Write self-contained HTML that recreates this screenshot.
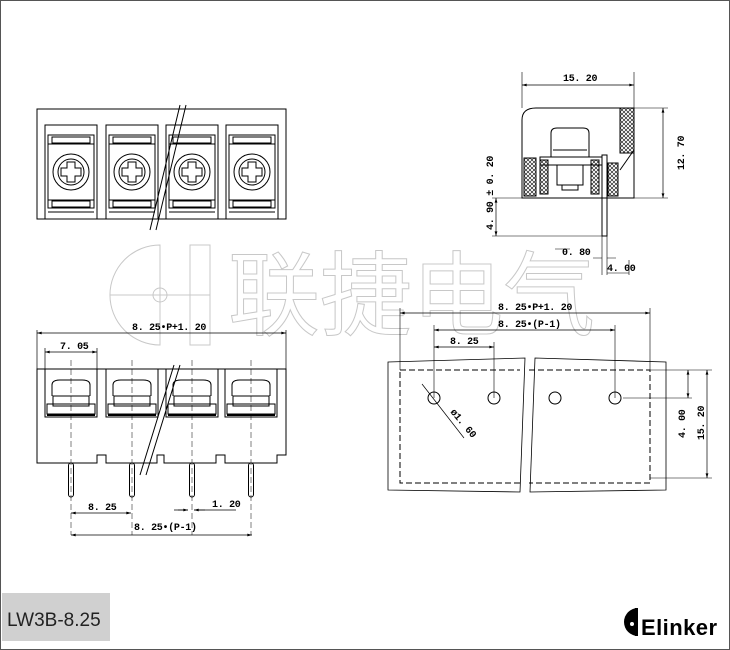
<!DOCTYPE html>
<html><head><meta charset="utf-8"><style>
html,body{margin:0;padding:0;background:#fff;}
svg{display:block;}
text{font-family:"Liberation Mono","DejaVu Sans Mono",monospace;font-weight:bold;font-size:10px;fill:#000;letter-spacing:-0.3px;}
</style></head><body>
<svg width="730" height="650" viewBox="0 0 730 650" xmlns="http://www.w3.org/2000/svg">
<defs>
<marker id="a" viewBox="0 0 10 6" refX="10" refY="3" markerWidth="8" markerHeight="4" orient="auto-start-reverse"><path d="M0,0L10,3L0,6z" fill="#000"/></marker>
<pattern id="h" width="4" height="4" patternUnits="userSpaceOnUse"><path d="M0,0L4,4M4,0L0,4" stroke="#000" stroke-width="0.6"/></pattern>
</defs>
<rect x="0.5" y="0.5" width="729" height="649" fill="none" stroke="#555"/>
<!-- watermark -->
<g fill="none" stroke="#c8c8c8" stroke-width="1">
<path d="M160,245 A50,50 0 1,0 160,345 L160,245 Z M110,295 H210"/>
<circle cx="160" cy="295" r="7"/>
<rect x="190" y="245" width="20" height="100"/>
<text x="228" y="328" style="font-family:'Noto Sans CJK SC',sans-serif;font-size:92px;font-weight:400;fill:none;stroke:#c8c8c8;stroke-width:1">联捷电气</text>
</g>
<g fill="none" stroke="#000" stroke-width="1">
<!-- top view -->
<rect x="37" y="109" width="249" height="110"/>
<g id="cell">
<rect x="45" y="125" width="52" height="94"/>
<rect x="48" y="135" width="46" height="9"/>
<rect x="52" y="137" width="38" height="6"/>
<rect x="48" y="144" width="46" height="56"/>
<circle cx="71" cy="172" r="18"/>
<circle cx="71" cy="172" r="13"/>
<path d="M67,162h8v6h6v8h-6v6h-8v-6h-6v-8h6z"/>
<rect x="48" y="200" width="46" height="8"/>
<rect x="52" y="201" width="38" height="6"/>
<path d="M48,212h46" />
</g>
<use href="#cell" x="61"/><use href="#cell" x="121"/><use href="#cell" x="181"/>
<path d="M180,105 L150,230 M186,105 L156,230" stroke-width="1"/>
<!-- front view -->
<path d="M37,369H286V455H277V463H225V455H216V463H164V455H157V463H106V455H97V463H37Z"/>
<g id="win">
<rect x="45" y="369" width="52" height="48"/>
<path d="M52,396V385Q52,380 60,380H82Q90,380 90,385V396"/>
<rect x="47" y="404" width="48" height="10"/>
<rect x="53" y="396" width="36" height="10"/>
<path d="M47,415H95" stroke-width="2"/>
<rect x="68.5" y="463" width="5" height="34" rx="2.5"/>
<path d="M71,360V535" stroke-dasharray="6,3" stroke-width="0.5"/>
</g>
<use href="#win" x="61"/><use href="#win" x="121"/><use href="#win" x="180"/>
<path d="M174,365 L140,475 M180,365 L146,475"/>
<!-- dims left -->
<path d="M37,333H286" marker-start="url(#a)" marker-end="url(#a)" stroke-width="0.7"/>
<path d="M37,330V369M286,330V369M45,348V369M97,348V369" stroke-width="0.7"/>
<path d="M45,352H97" marker-start="url(#a)" marker-end="url(#a)" stroke-width="0.7"/>
<path d="M71,513H131" marker-start="url(#a)" marker-end="url(#a)" stroke-width="0.7"/>
<path d="M71,535H252" marker-start="url(#a)" marker-end="url(#a)" stroke-width="0.7"/>
<path d="M174,510H188M194,510H236" stroke-width="0.7"/>
<path d="M178,510H188" marker-end="url(#a)" stroke-width="0.7"/>
<path d="M205,510H194" marker-end="url(#a)" stroke-width="0.7"/>
<!-- side view -->
<path d="M522,198V120Q522,108 536,108H634V198Z"/>
<rect x="620" y="108" width="14" height="45" fill="url(#h)"/>
<path d="M634,150 L620,170"/>
<rect x="524" y="158" width="12" height="38" fill="url(#h)"/>
<rect x="540" y="160" width="8" height="34" fill="url(#h)"/>
<rect x="591" y="160" width="8" height="34" fill="url(#h)"/>
<rect x="608" y="163" width="10" height="33" fill="url(#h)"/>
<path d="M540,157H602V165H540Z"/>
<path d="M551,157V133Q551,128 557,128H583Q589,128 589,133V157"/>
<path d="M553,150H587M557,165V185H583V165M562,185V190H578V185"/>
<rect x="602" y="155" width="5" height="81"/>
<path d="M522,72V108M634,72V108M634,108H668M634,198H668M522,198H492M607,236H492" stroke-width="0.6"/>
<path d="M522,85H634" marker-start="url(#a)" marker-end="url(#a)" stroke-width="0.7"/>
<path d="M663,108V198" marker-start="url(#a)" marker-end="url(#a)" stroke-width="0.7"/>
<path d="M496,198V236" marker-start="url(#a)" marker-end="url(#a)" stroke-width="0.7"/>
<path d="M602,236V275M607,236V275M629,260V275" stroke-width="0.6"/>
<path d="M555,249H570M593,258H602M616,258H607M607,273H629" stroke-width="0.6"/>
<!-- PCB view -->
<path d="M388,362L525,358L520,492L388,490Z" stroke-width="0.8"/>
<path d="M535,358L666,362L666,490L530,492Z" stroke-width="0.8"/>
<path d="M400,370H520M529,370H650V483H529M520,483H400V370M650,370" stroke-dasharray="6,3"/>
<circle cx="434" cy="398" r="6"/><circle cx="494" cy="398" r="6"/><circle cx="555" cy="398" r="6"/><circle cx="615" cy="398" r="6"/>
<path d="M400,308V370M650,308V370M434,325V398M615,325V398M494,342V398" stroke-width="0.6"/>
<path d="M400,313H650" marker-start="url(#a)" marker-end="url(#a)" stroke-width="0.7"/>
<path d="M434,330H615" marker-start="url(#a)" marker-end="url(#a)" stroke-width="0.7"/>
<path d="M434,347H494" marker-start="url(#a)" marker-end="url(#a)" stroke-width="0.7"/>
<path d="M623,398H692M650,370H712M650,478H712" stroke-width="0.6"/>
<path d="M688,370V398" marker-start="url(#a)" marker-end="url(#a)" stroke-width="0.7"/>
<path d="M707,370V478" marker-start="url(#a)" marker-end="url(#a)" stroke-width="0.7"/>
<path d="M422,384L464,438" stroke-width="0.7"/>
</g>
<!-- texts -->
<text x="132" y="330">8. 25•P+1. 20</text>
<text x="60" y="349">7. 05</text>
<text x="88" y="510">8. 25</text>
<text x="212" y="507">1. 20</text>
<text x="134" y="530">8. 25•(P-1)</text>
<text x="563" y="81">15. 20</text>
<text transform="translate(684,170) rotate(-90)">12. 70</text>
<text transform="translate(493,230) rotate(-90)">4. 90 ± 0. 20</text>
<text x="562" y="255">0. 80</text>
<text x="607" y="271">4. 00</text>
<text x="498" y="310">8. 25•P+1. 20</text>
<text x="498" y="327">8. 25•(P-1)</text>
<text x="450" y="344">8. 25</text>
<text transform="translate(450,412) rotate(50)">ø1. 60</text>
<text transform="translate(685,438) rotate(-90)">4. 00</text>
<text transform="translate(704,440) rotate(-90)">15. 20</text>
<rect x="2" y="593" width="108" height="48" fill="#d0d0d0"/>
<text x="7" y="626" style="font-family:'Liberation Sans',sans-serif;font-weight:normal;font-size:19px;fill:#222;letter-spacing:0">LW3B-8.25</text>
<path d="M638,608A14,14 0 0,0 638,636Z" fill="#000"/>
<rect x="635" y="608" width="3" height="28" fill="#000"/>
<circle cx="632" cy="624" r="2" fill="#fff"/>
<text x="641" y="635" style="font-family:'Liberation Sans',sans-serif;font-weight:bold;font-size:22px;letter-spacing:-1px" textLength="75">Elinker</text>
</svg>
</body></html>
